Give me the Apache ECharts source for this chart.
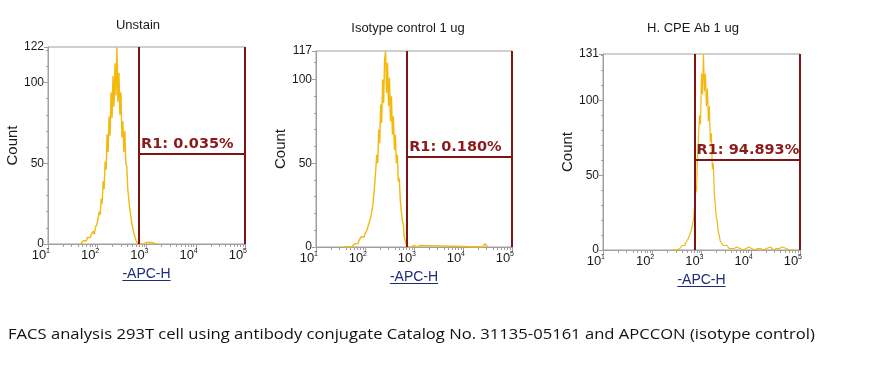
<!DOCTYPE html>
<html><head><meta charset="utf-8">
<script src="https://cdn.jsdelivr.net/npm/echarts@6/dist/echarts.min.js"></script>
<style>html,body{margin:0;padding:0;background:#fff}#c{width:877px;height:381px}</style>
</head><body><div id="c"></div><script>
// ---- data ----
const titles = ['Unstain', 'Isotype control 1 ug', 'H. CPE Ab 1 ug'];
const yMax = [122, 117, 131];
const xTickExponents = ['1', '2', '3', '4', '5'];
const yAxisName = 'Count';
const xAxisName = '-APC-H';

const unstainX = [1.66,1.68,1.70,1.72,1.74,1.76,1.78,1.80,1.82,1.84,1.86,1.88,1.90,1.92,1.94,1.96,1.98,2.00,2.02,2.04,2.06,2.08,2.10,2.12,2.14,2.16,2.18,2.20,2.22,2.24,2.26,2.28,2.30,2.32,2.34,2.36,2.38,2.40,2.42,2.44,2.46,2.48,2.50,2.52,2.54,2.56,2.58,2.60,2.62,2.64,2.66,2.68,2.70,2.72,2.74,2.76,2.78,2.80,2.82,2.86,2.90,2.94,3.00,3.04,3.10,3.14,3.20];
const unstainY = [0,1,1,2,1,3,2,4,3,5,4,6,5,8,6,10,9,13,12,20,18,28,25,39,34,51,46,68,57,79,67,94,78,104,85,112,92,122,88,106,80,94,66,76,57,70,50,48,34,33,22,21,13,12,7,5,3,1,0,0,1,0,1,0,1,0,0];

const isotypeX = [1.56,1.60,1.64,1.68,1.72,1.76,1.80,1.82,1.84,1.86,1.88,1.90,1.92,1.94,1.96,1.98,2.00,2.02,2.04,2.06,2.08,2.10,2.12,2.14,2.16,2.18,2.20,2.22,2.24,2.26,2.28,2.30,2.32,2.34,2.36,2.38,2.40,2.42,2.44,2.46,2.48,2.50,2.52,2.54,2.56,2.58,2.60,2.62,2.64,2.66,2.68,2.70,2.72,2.74,2.76,2.78,2.80,2.82,2.84,2.86,2.90,2.94,3.00,3.06,3.12,3.16,4.40,4.45,4.50];
const isotypeY = [0,1,0,1,0,1,2,1,3,2,4,4,6,5,7,6,8,8,10,10,14,13,18,18,25,26,38,37,55,50,70,62,85,74,100,86,112,117,92,110,84,101,75,90,67,78,58,67,50,55,39,41,28,27,16,14,6,5,2,0,1,0,1,0,1,0,0,2,0];

const cpeX = [2.40,2.44,2.48,2.52,2.56,2.60,2.62,2.64,2.66,2.68,2.70,2.72,2.74,2.76,2.78,2.80,2.82,2.84,2.86,2.88,2.90,2.92,2.94,2.96,2.98,3.00,3.02,3.04,3.06,3.08,3.10,3.12,3.14,3.16,3.18,3.20,3.22,3.24,3.26,3.28,3.30,3.32,3.34,3.36,3.38,3.40,3.44,3.48,3.52,3.56,3.60,3.66,3.72,3.78,3.84,3.90,3.96,4.02,4.08,4.14,4.20,4.26,4.32,4.40,4.46,4.52,4.58,4.64,4.68,4.72,4.76,4.80,4.84,4.88];
const cpeY = [0,1,0,1,1,3,2,4,3,5,4,7,6,10,9,14,14,21,22,38,40,63,62,90,84,118,104,131,106,118,96,108,86,96,72,78,54,58,38,38,22,19,12,10,6,5,3,2,3,1,2,1,2,1,0,1,2,1,0,1,1,0,1,2,0,1,1,2,3,1,2,0,1,0];

const gateLeft = [2.85, 2.86, 2.86];
const gateRight = [5, 5, 5];
const gateLevel = [55.7, 53.9, 60.2];
const gateLabels = ['R1: 0.035%', 'R1: 0.180%', 'R1: 94.893%'];
const caption = 'FACS analysis 293T cell using antibody conjugate Catalog No. 31135-05161 and APCCON (isotype control)';

// ---- layout / style ----
const panels = [
  {left: 48, top: 47, width: 197, height: 197, titleX: 138, titleY: 25, lw: 1.4},
  {left: 316, top: 51, width: 196, height: 196, titleX: 408, titleY: 28, lw: 1.4},
  {left: 603, top: 54, width: 197, height: 196, titleX: 693, titleY: 28, lw: 1.2}
];
const histX = [unstainX, isotypeX, cpeX];
const histY = [unstainY, isotypeY, cpeY];
const AXIS = '#a0a0a0';
const HIST = '#F5B80C';
const GATE = '#7d1515';
const LABEL = '#8a1b1b';
const NAMEBLUE = '#1e2a7c';

const minorX = [];
for (let n = 1; n < 5; n++) for (let k = 2; k <= 9; k++) minorX.push(n + Math.log10(k));

const chart = echarts.init(document.getElementById('c'), null, {renderer: 'canvas'});
const grid = [], xAxis = [], yAxis = [], series = [], graphic = [];
const cv = document.createElement('canvas').getContext('2d');
cv.font = '14px "Liberation Sans"';
const nameW = cv.measureText(xAxisName).width;

panels.forEach((p, i) => {
  grid.push({left: p.left, top: p.top, width: p.width, height: p.height, show: true,
    borderColor: AXIS, borderWidth: 1, containLabel: false});
  xAxis.push({gridIndex: i, type: 'value', min: 1, max: 5, interval: 1, position: 'bottom',
    axisLine: {show: true, lineStyle: {color: AXIS}},
    axisTick: {show: true, length: 5, lineStyle: {color: AXIS}},
    splitLine: {show: false},
    axisLabel: {margin: 4, align: 'right', padding: [0, -2, 0, 0],
      formatter: v => '{b|10}{s|' + xTickExponents[Math.round(v) - 1] + '}',
      rich: {b: {fontSize: 13, fontFamily: 'Liberation Sans', color: '#1a1a1a', lineHeight: 15},
             s: {fontSize: 7, fontFamily: 'Liberation Sans', color: '#1a1a1a', verticalAlign: 'top', lineHeight: 8}}},
    name: xAxisName, nameLocation: 'middle', nameGap: 22,
    nameTextStyle: {color: NAMEBLUE, fontSize: 14, fontFamily: 'Liberation Sans'}
  });
  yAxis.push({gridIndex: i, type: 'value', min: 0, max: yMax[i], interval: 50, position: 'left',
    axisLine: {show: true, lineStyle: {color: AXIS}},
    axisTick: {show: true, length: 4, lineStyle: {color: AXIS}},
    splitLine: {show: false},
    axisLabel: {margin: 4, fontSize: 12, fontFamily: 'Liberation Sans', color: '#1a1a1a', showMaxLabel: true, showMinLabel: true},
    name: yAxisName, nameLocation: 'middle', nameGap: 25, nameRotate: 90,
    nameTextStyle: {fontSize: 15, fontFamily: 'Liberation Sans', color: '#1a1a1a'}
  });
  yAxis.push({gridIndex: i, type: 'value', min: 0, max: yMax[i], interval: 10, position: 'left',
    axisLine: {show: false}, axisTick: {show: true, length: 2, lineStyle: {color: AXIS}},
    axisLabel: {show: false}, splitLine: {show: false}
  });
  series.push({type: 'line', xAxisIndex: i, yAxisIndex: 2 * i, symbol: 'none', showSymbol: false,
    data: histX[i].map((x, j) => [x, histY[i][j]]),
    lineStyle: {color: HIST, width: p.lw}, z: 2, animation: false,
    markLine: {silent: true, symbol: ['none', 'none'], animation: false,
      lineStyle: {color: GATE, width: 2, type: 'solid'},
      label: {show: false},
      emphasis: {disabled: true},
      data: [
        {xAxis: gateLeft[i]},
        {xAxis: gateRight[i]},
        [{coord: [gateLeft[i], gateLevel[i]],
          label: {show: true, formatter: gateLabels[i], position: 'insideStartTop', distance: [2, 2],
            color: LABEL, fontSize: 14.5, fontWeight: 'bold', fontFamily: 'DejaVu Sans'}},
         {coord: [gateRight[i], gateLevel[i]]}]
      ]}
  });
  series.push({type: 'custom', xAxisIndex: i, yAxisIndex: 2 * i, silent: true, clip: false, animation: false,
    data: minorX.map(v => [v, 0]),
    renderItem: (params, api) => {
      const pt = api.coord([api.value(0), 0]);
      const x = Math.round(pt[0]) + 0.5;
      return {type: 'line', shape: {x1: x, y1: pt[1], x2: x, y2: pt[1] + 3},
        style: {stroke: AXIS, lineWidth: 1}};
    }
  });
  graphic.push({type: 'text', x: p.titleX, y: p.titleY, silent: true,
    style: {text: titles[i], fontSize: 13, fontFamily: 'Liberation Sans', fill: '#1a1a1a', align: 'center', verticalAlign: 'middle'}});
  const cx = p.left + p.width / 2;
  const uy = p.top + p.height + 36.5;
  graphic.push({type: 'line', silent: true,
    shape: {x1: cx - nameW / 2, y1: uy, x2: cx + nameW / 2, y2: uy},
    style: {stroke: NAMEBLUE, lineWidth: 1}});
});

graphic.push({type: 'text', x: 8, y: 335, scaleX: 1.145, silent: true,
  style: {text: caption, fontSize: 14.5, fontFamily: 'Open Sans', fill: '#111', align: 'left', verticalAlign: 'middle'}});

chart.setOption({animation: false, backgroundColor: '#fff', grid, xAxis, yAxis, series, graphic});
</script></body></html>
